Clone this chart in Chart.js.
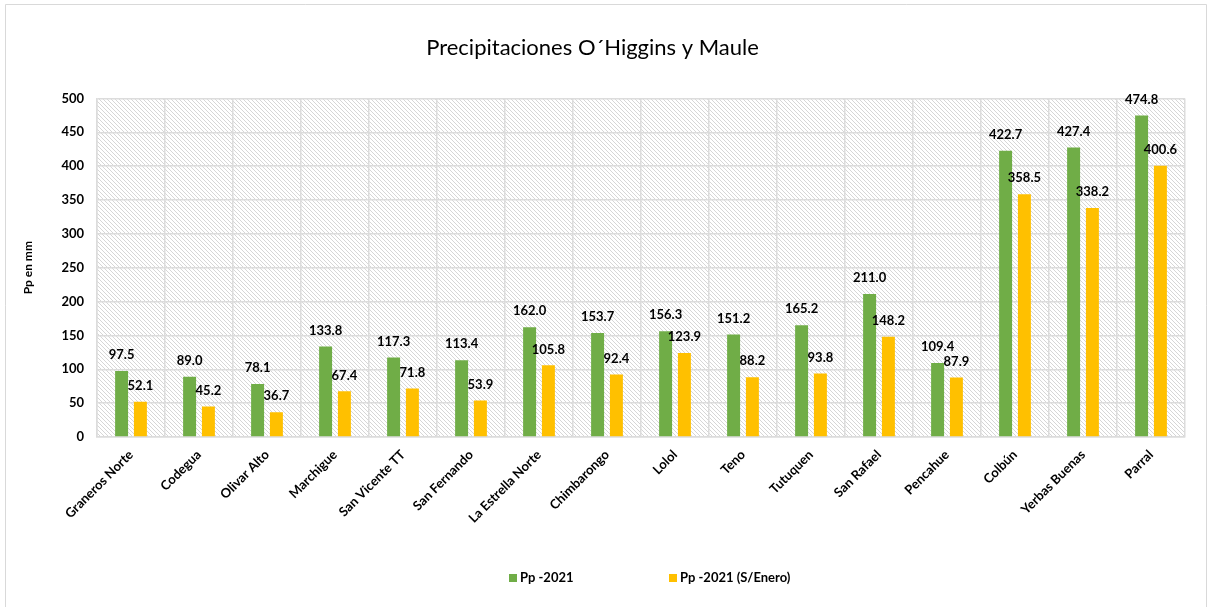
<!DOCTYPE html>
<html>
<head>
<meta charset="utf-8">
<script src="https://cdn.jsdelivr.net/npm/chart.js@4.4.1/dist/chart.umd.min.js"></script>
<style>
  html, body { margin: 0; padding: 0; background: #fff; }
  #wrap { width: 1208px; height: 607px; }
</style>
</head>
<body>
<div id="wrap"><canvas id="chart" width="1208" height="607"></canvas></div>
<script>
// datos
var estaciones = ['Graneros Norte', 'Codegua', 'Olivar Alto', 'Marchigue', 'San Vicente TT', 'San Fernando',
  'La Estrella Norte', 'Chimbarongo', 'Lolol', 'Teno', 'Tutuquen', 'San Rafael', 'Pencahue', 'Colbún',
  'Yerbas Buenas', 'Parral'];
var pp2021 = [97.5, 89.0, 78.1, 133.8, 117.3, 113.4, 162.0, 153.7, 156.3, 151.2, 165.2, 211.0, 109.4, 422.7, 427.4, 474.8];
var ppSinEnero = [52.1, 45.2, 36.7, 67.4, 71.8, 53.9, 105.8, 92.4, 123.9, 88.2, 93.8, 148.2, 87.9, 358.5, 338.2, 400.6];
var serieNombres = ['Pp -2021', 'Pp -2021 (S/Enero)'];
var colores = ['#70AD47', '#FFC000'];

var FONT = 'Lato, "Open Sans", sans-serif';

function rayado(ctx){
  var c = document.createElement('canvas');
  c.width = 4; c.height = 4;
  var p = c.getContext('2d');
  p.fillStyle = '#fff';
  p.fillRect(0, 0, 4, 4);
  p.strokeStyle = '#d6d6d6';
  p.lineWidth = 1;
  [-4, 0, 4].forEach(function(k){
    p.beginPath();
    p.moveTo(k, 0);
    p.lineTo(k + 4, 4);
    p.stroke();
  });
  return ctx.createPattern(c, 'repeat');
}

var fondo = {
  id: 'fondo',
  beforeDraw: function(chart){
    var ctx = chart.ctx, a = chart.chartArea;
    ctx.save();
    ctx.fillStyle = '#fff';
    ctx.fillRect(0, 0, chart.width, chart.height);
    ctx.strokeStyle = '#d9d9d9';
    ctx.lineWidth = 1;
    ctx.beginPath();
    ctx.moveTo(5.5, chart.height);
    ctx.lineTo(5.5, 4.5);
    ctx.lineTo(chart.width - 1.5, 4.5);
    ctx.lineTo(chart.width - 1.5, chart.height);
    ctx.stroke();
    ctx.fillStyle = rayado(ctx);
    ctx.fillRect(a.left, a.top, a.right - a.left, a.bottom - a.top);
    ctx.restore();
  }
};

var etiquetas = {
  id: 'etiquetas',
  afterDatasetsDraw: function(chart){
    var ctx = chart.ctx;
    ctx.save();
    ctx.font = 'bold 13px ' + FONT;
    ctx.fillStyle = '#000';
    ctx.textAlign = 'center';
    ctx.textBaseline = 'middle';
    chart.data.datasets.forEach(function(ds, i){
      chart.getDatasetMeta(i).data.forEach(function(bar, j){
        ctx.fillText(ds.data[j].toFixed(1), bar.x, bar.y - 16);
      });
    });
    ctx.restore();
  }
};

var leyenda = {
  id: 'leyenda',
  afterDraw: function(chart){
    var ctx = chart.ctx;
    var xs = [509, 669];
    var y = 578;
    ctx.save();
    ctx.font = 'bold 13px ' + FONT;
    ctx.textBaseline = 'middle';
    chart.data.datasets.forEach(function(ds, i){
      ctx.fillStyle = ds.backgroundColor;
      ctx.fillRect(xs[i], y - 4, 8, 8);
      ctx.fillStyle = '#000';
      ctx.fillText(ds.label, xs[i] + 11, y);
    });
    ctx.restore();
  }
};

new Chart(document.getElementById('chart'), {
  type: 'bar',
  data: {
    labels: estaciones,
    datasets: [{
      label: serieNombres[0],
      data: pp2021,
      backgroundColor: colores[0]
    }, {
      label: serieNombres[1],
      data: ppSinEnero,
      backgroundColor: colores[1]
    }]
  },
  options: {
    responsive: false,
    animation: false,
    categoryPercentage: 0.553,
    barPercentage: 0.69,
    layout: { padding: { top: 0, left: 0, right: 23, bottom: 0 } },
    plugins: {
      legend: { display: false },
      tooltip: { enabled: false },
      title: {
        display: true,
        text: 'Precipitaciones O´Higgins y Maule',
        color: '#000',
        font: { family: FONT, size: 22, weight: 'normal' },
        padding: { top: 35, bottom: 37 }
      }
    },
    scales: {
      x: {
        grid: { color: '#dcdcdc', lineWidth: 1.5, drawTicks: false },
        border: { color: '#dcdcdc', width: 1.5 },
        ticks: {
          color: '#000',
          font: { family: FONT, size: 13, weight: 'bold' },
          maxRotation: 45,
          minRotation: 45,
          autoSkip: false,
          padding: 10
        },
        afterFit: function(scale){
          scale.height = 170;
          scale.paddingLeft = 0;
          scale.paddingRight = 0;
        }
      },
      y: {
        min: 0,
        max: 500,
        grid: { color: '#dcdcdc', lineWidth: 1.5, drawTicks: false },
        border: { color: '#dcdcdc', width: 1.5 },
        ticks: {
          stepSize: 50,
          color: '#000',
          font: { family: FONT, size: 13, weight: 'bold' },
          padding: 13
        },
        title: {
          display: true,
          text: 'Pp en mm',
          color: '#000',
          font: { family: FONT, size: 12, weight: 'bold' },
          padding: { top: 21, bottom: 0 }
        },
        afterFit: function(scale){
          scale.width = 97;
        }
      }
    }
  },
  plugins: [fondo, etiquetas, leyenda]
});
</script>
</body>
</html>
